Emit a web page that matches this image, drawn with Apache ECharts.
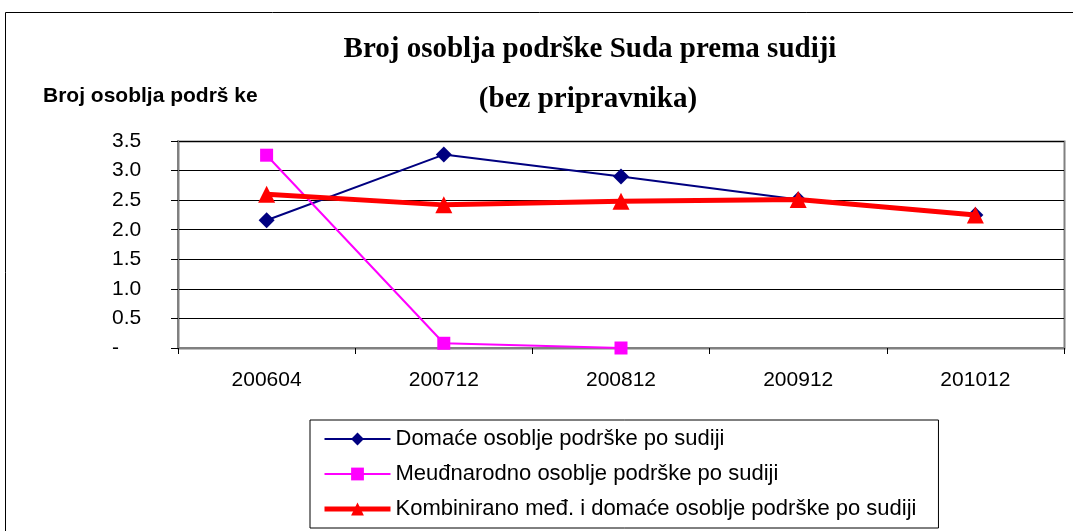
<!DOCTYPE html>
<html>
<head>
<meta charset="utf-8">
<script src="https://cdn.jsdelivr.net/npm/echarts@6/dist/echarts.min.js"></script>
<style>
html,body{margin:0;padding:0;background:#fff;}
#c{width:1073px;height:531px;}
</style>
</head>
<body>
<div id="c"></div>
<script>
var categories = ['200604', '200712', '200812', '200912', '201012'];
var domace = [2.16, 3.27, 2.90, 2.51, 2.25];
var medjunarodno = [3.26, 0.08, 0.0, null, null];
var kombinirano = [2.60, 2.42, 2.48, 2.51, 2.25];
var seriesNames = [
  'Domaće osoblje podrške po sudiji',
  'Meuđnarodno osoblje podrške po sudiji',
  'Kombinirano međ. i domaće osoblje podrške po sudiji'
];
var titleText = 'Broj osoblja podrške Suda prema sudiji';
var subtitleText = '(bez pripravnika)';
var yAxisTitle = 'Broj osoblja podrš ke';

var sans = '"Liberation Sans", Arial, sans-serif';
var serif = '"Liberation Serif", "Times New Roman", serif';

var chart = echarts.init(document.getElementById('c'));
chart.setOption({
  animation: false,
  backgroundColor: '#fff',
  graphic: [
    { type: 'rect', shape: { x: 5.5, y: 12.5, width: 1100, height: 600 },
      style: { fill: 'none', stroke: '#000', lineWidth: 1 }, silent: true, z: -1 },
    { type: 'rect', shape: { x: 178.5, y: 141.5, width: 886, height: 207 },
      style: { fill: 'none', stroke: '#808080', lineWidth: 2 }, silent: true, z: 0 },
    { type: 'text', left: 43, top: 86,
      style: { text: yAxisTitle, font: 'bold 21px ' + sans, fill: '#000' } }
  ],
  title: [
    { text: titleText, left: 585, top: 30, textAlign: 'center',
      textStyle: { fontFamily: serif, fontWeight: 'bold', fontSize: 29, color: '#000' } },
    { text: subtitleText, left: 583, top: 80, textAlign: 'center',
      textStyle: { fontFamily: serif, fontWeight: 'bold', fontSize: 29, color: '#000' } }
  ],
  grid: { left: 178, right: 9, top: 141, bottom: 183, containLabel: false },
  legend: {
    orient: 'vertical',
    left: 310, top: 420,
    padding: [8, 22, 8, 12],
    itemGap: 13,
    itemWidth: 66,
    itemHeight: 16,
    borderColor: '#000',
    borderWidth: 1,
    backgroundColor: '#fff',
    textStyle: { fontFamily: sans, fontSize: 22, color: '#000' },
    data: [
      { name: seriesNames[0], lineStyle: { width: 2 } },
      { name: seriesNames[1], lineStyle: { width: 2 } },
      { name: seriesNames[2], lineStyle: { width: 5 } }
    ]
  },
  xAxis: {
    type: 'category',
    data: categories,
    boundaryGap: true,
    axisLine: { lineStyle: { color: '#808080', width: 2 } },
    axisTick: { show: true, length: 6, lineStyle: { color: '#000' } },
    axisLabel: { margin: 22, fontFamily: sans, fontSize: 21, color: '#000' },
    splitLine: { show: false }
  },
  yAxis: {
    type: 'value',
    min: 0, max: 3.5, interval: 0.5,
    axisLine: { show: true, lineStyle: { color: '#808080', width: 2 } },
    axisTick: { show: true, length: 7, lineStyle: { color: '#000' } },
    axisLabel: {
      margin: 66, align: 'left',
      fontFamily: sans, fontSize: 21, color: '#000',
      formatter: function (v) { return v === 0 ? '-' : v.toFixed(1); }
    },
    splitLine: { show: true, lineStyle: { color: '#000', width: 1 } }
  },
  series: [
    { name: seriesNames[0], type: 'line', data: domace,
      symbol: 'diamond', symbolSize: 16,
      lineStyle: { color: '#000080', width: 2 },
      itemStyle: { color: '#000080' }, z: 3 },
    { name: seriesNames[1], type: 'line', data: medjunarodno,
      symbol: 'rect', symbolSize: 13,
      lineStyle: { color: '#FF00FF', width: 2 },
      itemStyle: { color: '#FF00FF' }, z: 4 },
    { name: seriesNames[2], type: 'line', data: kombinirano,
      symbol: 'triangle', symbolSize: 17,
      lineStyle: { color: '#FF0000', width: 5 },
      itemStyle: { color: '#FF0000' }, z: 5 }
  ]
});
</script>
</body>
</html>
